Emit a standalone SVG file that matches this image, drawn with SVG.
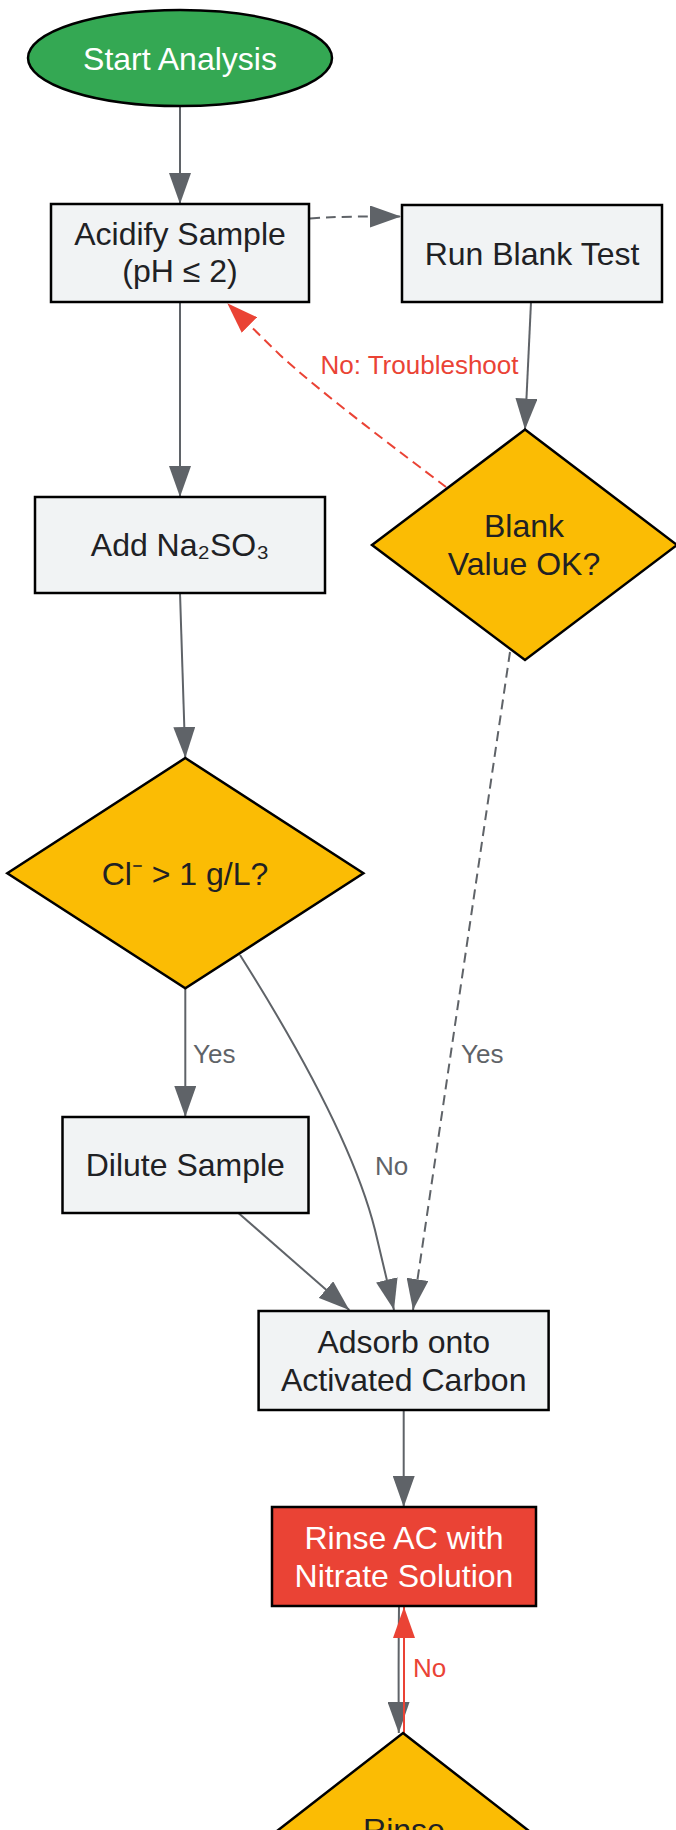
<svg xmlns="http://www.w3.org/2000/svg" width="676" height="1830" viewBox="0 0 676 1830">
<defs>
<style>
.node-rect{fill:#f1f3f4;stroke:#000;stroke-width:2.5}
.dec{fill:#fbbc04;stroke:#000;stroke-width:2.5}
.t{font-family:"Liberation Sans",Arial,sans-serif;font-size:32px;fill:#202124;text-anchor:middle}
.tw{fill:#ffffff}
.lbl{font-family:"Liberation Sans",Arial,sans-serif;font-size:26px;fill:#5f6368}
.lblr{fill:#ea4335}
.e{fill:none;stroke:#5f6368;stroke-width:2}
.er{fill:none;stroke:#ea4335;stroke-width:2}
.d{stroke-dasharray:10,6}
</style>
<marker id="ah" viewBox="0 0 31 22" refX="31" refY="11" markerWidth="31" markerHeight="22" markerUnits="userSpaceOnUse" orient="auto">
<path d="M0,0 L31,11 L0,22 z" fill="#5f6368"/>
</marker>
<marker id="ahr" viewBox="0 0 31 22" refX="31" refY="11" markerWidth="31" markerHeight="22" markerUnits="userSpaceOnUse" orient="auto">
<path d="M0,0 L31,11 L0,22 z" fill="#ea4335"/>
</marker>
</defs>
<rect width="676" height="1830" fill="#ffffff"/>

<g id="connectors">
<path class="e" d="M180,106 L180,204" marker-end="url(#ah)"/>
<path class="e d" d="M310,218.5 C335,216.5 355,216.5 401,216.5" marker-end="url(#ah)"/>
<path class="e" d="M180,302 L180,497" marker-end="url(#ah)"/>
<path class="e" d="M531,302 L525,429.5" marker-end="url(#ah)"/>
<path class="er d" d="M446,487 C400,452 320,392 280,355 L227.3,303.3" marker-end="url(#ahr)"/>
<text class="lbl lblr" x="419.5" y="374" text-anchor="middle">No: Troubleshoot</text>
<path class="e" d="M180,593 L185.3,758" marker-end="url(#ah)"/>
<path class="e" d="M185.3,988 L185.3,1117" marker-end="url(#ah)"/>
<text class="lbl" x="193" y="1063">Yes</text>
<path class="e" d="M240,955 C300,1050 355,1150 375,1230 L394,1310" marker-end="url(#ah)"/>
<text class="lbl" x="375" y="1175">No</text>
<path class="e d" d="M510,652 L413,1310" marker-end="url(#ah)"/>
<text class="lbl" x="461" y="1063">Yes</text>
<path class="e" d="M238.4,1213 L349.3,1310" marker-end="url(#ah)"/>
<path class="e" d="M403.7,1410 L403.7,1507" marker-end="url(#ah)"/>
<path class="e" d="M399,1606 C398.5,1650 398.5,1690 398.8,1733" marker-end="url(#ah)"/>
<path class="er" d="M404,1733 L404,1607" marker-end="url(#ahr)"/>
<text class="lbl lblr" x="413" y="1677">No</text>
</g>

<g id="start">
<ellipse cx="180" cy="58" rx="152" ry="48" fill="#34a853" stroke="#000" stroke-width="2.5"/>
<text class="t tw" x="180" y="69.5">Start Analysis</text>
</g>

<g id="acidify">
<rect class="node-rect" x="51" y="204" width="258" height="98"/>
<text class="t" x="180" y="245">Acidify Sample</text>
<text class="t" x="180" y="282">(pH ≤ 2)</text>
</g>

<g id="blank">
<rect class="node-rect" x="402" y="205" width="260" height="97"/>
<text class="t" x="532" y="264.5">Run Blank Test</text>
</g>

<g id="blankok">
<polygon class="dec" points="525,429.5 677,545 525,660 372,545"/>
<text class="t" x="524" y="537">Blank</text>
<text class="t" x="524" y="575">Value OK?</text>
</g>

<g id="addna">
<rect class="node-rect" x="35" y="497" width="290" height="96"/>
<text class="t" x="180" y="556">Add Na₂SO₃</text>
</g>

<g id="chloride">
<polygon class="dec" points="185.3,758 363.4,873.3 185.3,988.3 7.3,873.3"/>
<text class="t" x="185" y="885">Cl⁻ &gt; 1 g/L?</text>
</g>

<g id="dilute">
<rect class="node-rect" x="62.5" y="1117" width="246" height="96"/>
<text class="t" x="185.3" y="1176">Dilute Sample</text>
</g>

<g id="adsorb">
<rect class="node-rect" x="258.6" y="1311" width="290" height="99"/>
<text class="t" x="403.7" y="1352.7">Adsorb onto</text>
<text class="t" x="403.7" y="1390.7">Activated Carbon</text>
</g>

<g id="rinse">
<rect x="272" y="1507" width="264" height="99" fill="#ea4335" stroke="#000" stroke-width="2.5"/>
<text class="t tw" x="404" y="1549">Rinse AC with</text>
<text class="t tw" x="404" y="1587">Nitrate Solution</text>
</g>

<g id="rinsecheck">
<polygon class="dec" points="403,1733 583,1873 403,2013 223,1873"/>
<text class="t" x="404" y="1840.5">Rinse</text>
</g>
</svg>
